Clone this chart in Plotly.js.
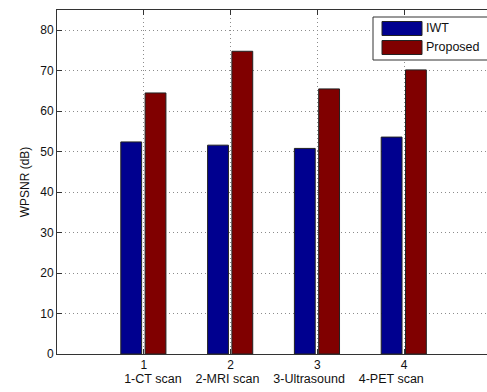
<!DOCTYPE html>
<html>
<head>
<meta charset="utf-8">
<script src="https://cdn.plot.ly/plotly-3.0.1.min.js"></script>
<style>
  html, body { margin: 0; padding: 0; overflow: hidden; background: #fff; width: 487px; height: 392px; }
  #frame { width: 487px; height: 392px; overflow: hidden; position: relative; }
  #chart { width: 491px; height: 392px; position: absolute; left: 0; top: 0; }
</style>
</head>
<body>
<div id="frame"><div id="chart"></div></div>
<script>
// Image modality index and names
const positions = [1, 2, 3, 4];
const modalities = ["1-CT scan", "2-MRI scan", "3-Ultrasound", "4-PET scan"];

// WPSNR (dB) per method
const seriesNames = ["IWT", "Proposed"];
const iwtValues = [52.4, 51.6, 50.8, 53.6];
const proposedValues = [64.5, 74.8, 65.5, 70.2];

const seriesColors = ["#00008f", "#800000"];
const font = { family: "Liberation Sans, Arial, sans-serif", size: 12, color: "#111" };
const labelFont = { family: font.family, size: 12.5, color: "#111" };

const traces = [
  {
    type: "bar", name: seriesNames[0], x: positions, y: iwtValues,
    width: 0.24, offset: -0.265,
    marker: { color: seriesColors[0], line: { color: "#222", width: 1 } },
    showlegend: false, hoverinfo: "y"
  },
  {
    type: "bar", name: seriesNames[1], x: positions, y: proposedValues,
    width: 0.24, offset: 0.015,
    marker: { color: seriesColors[1], line: { color: "#222", width: 1 } },
    showlegend: false, hoverinfo: "y"
  }
];

// Boxed legend with wide swatches in the top-right corner
const px = v => (v - 57) / 434;
const py = v => (354 - v) / 344;
const shapes = [
  { type: "rect", xref: "paper", yref: "paper", layer: "above",
    x0: px(373), x1: px(489), y0: py(60), y1: py(17),
    fillcolor: "#fff", line: { color: "#333", width: 1 } },
  { type: "rect", xref: "paper", yref: "paper", layer: "above",
    x0: px(382), x1: px(422), y0: py(35.5), y1: py(21.5),
    fillcolor: seriesColors[0], line: { color: "#222", width: 1 } },
  { type: "rect", xref: "paper", yref: "paper", layer: "above",
    x0: px(382), x1: px(422), y0: py(54.5), y1: py(40.5),
    fillcolor: seriesColors[1], line: { color: "#222", width: 1 } }
];
const annotations = [
  { xref: "paper", yref: "paper", x: px(424), y: py(28.5), xanchor: "left", yanchor: "middle",
    text: seriesNames[0], showarrow: false, font: labelFont },
  { xref: "paper", yref: "paper", x: px(424), y: py(47.5), xanchor: "left", yanchor: "middle",
    text: seriesNames[1], showarrow: false, font: labelFont }
];

// Box on left, top and bottom only; the right side lies past the visible frame
const axisCommon = {
  showline: true, linecolor: "#333", linewidth: 1,
  ticks: "inside", ticklen: 5, tickcolor: "#333",
  showgrid: true, gridcolor: "#8c8c8c", gridwidth: 1, griddash: "1px,3px",
  zeroline: false, tickfont: font
};

const gap = "\u00a0\u00a0\u00a0\u00a0";

const layout = {
  width: 491, height: 392,
  margin: { l: 57, r: 0, t: 10, b: 38 },
  paper_bgcolor: "#fff", plot_bgcolor: "#fff",
  font: font,
  barmode: "overlay",
  xaxis: Object.assign({}, axisCommon, {
    mirror: "ticks",
    range: [0, 5], tickvals: positions, ticktext: positions.map(String),
    title: { text: modalities.join(gap), font: labelFont, standoff: 2 }
  }),
  yaxis: Object.assign({}, axisCommon, {
    mirror: false,
    range: [0, 85], tickvals: [0, 10, 20, 30, 40, 50, 60, 70, 80],
    title: { text: "WPSNR (dB)\u00a0\u00a0", font: { family: font.family, size: 12, color: "#111" }, standoff: 8 }
  }),
  shapes: shapes,
  annotations: annotations
};

Plotly.newPlot("chart", traces, layout, { displayModeBar: false, staticPlot: true });
</script>
</body>
</html>
